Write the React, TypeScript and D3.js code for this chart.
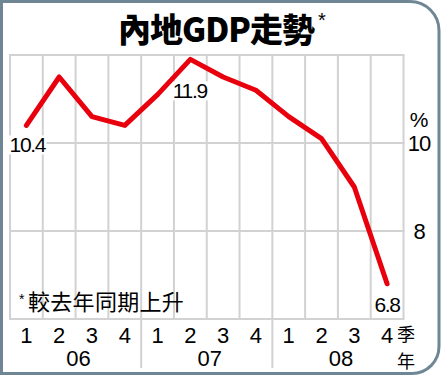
import React from "react";
import * as d3 from "d3";

const quarters = ["1", "2", "3", "4", "1", "2", "3", "4", "1", "2", "3", "4"];
const years = ["06", "07", "08"];
const gdp = [10.4, 11.5, 10.6, 10.4, 11.1, 11.9, 11.5, 11.2, 10.6, 10.1, 9.0, 6.8];
const yTicks = [8, 10];
const pointLabels = [
  { i: 0, text: "10.4" },
  { i: 5, text: "11.9" },
  { i: 11, text: "6.8" },
];

const W = 441;
const H = 376;
const left = 10;
const right = 403.5;
const top = 55;
const bottom = 319;

export default function App() {
  const x = d3.scaleBand<number>().domain(d3.range(12)).range([left, right]);
  const y = d3.scaleLinear().domain([6, 12]).range([bottom, top]);
  const cx = (i: number) => (x(i) as number) + x.bandwidth() / 2;
  const line = d3
    .line<number>()
    .x((_, i) => cx(i))
    .y((d) => y(d));

  const verticals = d3.range(13).map((i) => (i < 12 ? (x(i) as number) : right));
  const horizontals = [12, 10, 8, 6];
  const numFont = "'Liberation Sans', Arial, sans-serif";
  const cjkFont = "'Noto Sans CJK TC', 'Noto Sans CJK SC', sans-serif";
  const gridColor = "#d2d2d2";

  const r1 = 29;
  const r2 = 27;
  const framePath = `M1.5,1.5 L${439 - r1},1.5 A${r1},${r1} 0 0 1 439,${1.5 + r1} L439,${373.5 - r2} A${r2},${r2} 0 0 1 ${439 - r2},373.5 L1.5,373.5 Z`;

  return (
    <svg
      width={W}
      height={H}
      style={{ position: "absolute", left: 0, top: 0, background: "#fff" }}
    >
      <rect x={0} y={0} width={W} height={H} fill="#fff" />
      <path d={framePath} fill="#fff" stroke="#6f8694" strokeWidth={3} />

      {/* grid */}
      {verticals.map((vx, i) => (
        <line key={"v" + i} x1={vx} x2={vx} y1={top} y2={bottom} stroke={gridColor} strokeWidth={2} />
      ))}
      {horizontals.map((h) => (
        <line key={"h" + h} x1={left - 1} x2={right + 1} y1={y(h)} y2={y(h)} stroke={gridColor} strokeWidth={2} />
      ))}
      {/* year separators below axis */}
      {[4, 8].map((i) => (
        <line
          key={"ys" + i}
          x1={x(i) as number}
          x2={x(i) as number}
          y1={bottom}
          y2={368}
          stroke={gridColor}
          strokeWidth={2}
        />
      ))}

      {/* footnote */}
      <text x={19} y={304} fontFamily={numFont} fontSize={14} fill="#000">*</text>
      <text x={28} y={310} fontFamily={cjkFont} fontSize={22} letterSpacing={0.3} fill="#000">較去年同期上升</text>

      {/* point labels with white background */}
      {pointLabels.map((p) => {
        const px = cx(p.i);
        let tx = px;
        let ty = y(gdp[p.i]);
        if (p.i === 0) { tx = px + 1; ty = ty + 27; }
        else if (p.i === 5) { tx = px - 0.5; ty = ty + 39; }
        else { tx = px; ty = ty + 28; }
        const wdt = p.text.length * 9.5;
        return (
          <g key={"pl" + p.i}>
            {p.i !== 11 && (
              <rect x={tx - wdt / 2} y={ty - 17} width={wdt} height={19} fill="#fff" />
            )}
            <text
              x={tx}
              y={ty}
              textAnchor="middle"
              fontFamily={numFont}
              fontSize={21}
              letterSpacing={-1.3}
              fill="#000"
            >
              {p.text}
            </text>
          </g>
        );
      })}

      {/* data line */}
      <path
        d={line(gdp) || ""}
        fill="none"
        stroke="#e8000d"
        strokeWidth={5}
        strokeLinejoin="round"
        strokeLinecap="round"
      />

      {/* right axis */}
      <text x={419} y={127} textAnchor="middle" fontFamily={numFont} fontSize={21} fill="#000">%</text>
      {yTicks.map((t) => (
        <text
          key={"yt" + t}
          x={419}
          y={y(t) + 7.5}
          textAnchor="middle"
          fontFamily={numFont}
          fontSize={22}
          letterSpacing={-1}
          fill="#000"
        >
          {t}
        </text>
      ))}

      {/* x axis quarter labels */}
      {quarters.map((q, i) => (
        <text
          key={"q" + i}
          x={cx(i)}
          y={343}
          textAnchor="middle"
          fontFamily={numFont}
          fontSize={22}
          fill="#000"
        >
          {q}
        </text>
      ))}
      {years.map((yr, k) => {
        const x0 = x(k * 4) as number;
        const x1 = k === 2 ? right : (x(k * 4 + 4) as number);
        return (
          <text
            key={"y" + yr}
            x={(x0 + x1) / 2 + 3}
            y={366}
            textAnchor="middle"
            fontFamily={numFont}
            fontSize={22}
            fill="#000"
          >
            {yr}
          </text>
        );
      })}
      <text x={406} y={341} textAnchor="middle" fontFamily={cjkFont} fontSize={18} fill="#000">季</text>
      <text x={406} y={368} textAnchor="middle" fontFamily={cjkFont} fontSize={18} fill="#000">年</text>

      {/* title */}
      <text
        x={216}
        y={42}
        textAnchor="middle"
        fontFamily={cjkFont}
        fontSize={33}
        fontWeight={900}
        letterSpacing={-1}
        fill="#000"
      >
        內地GDP走勢
      </text>
      <text x={322} y={27} textAnchor="middle" fontFamily={numFont} fontSize={20} fill="#000">*</text>
    </svg>
  );
}
